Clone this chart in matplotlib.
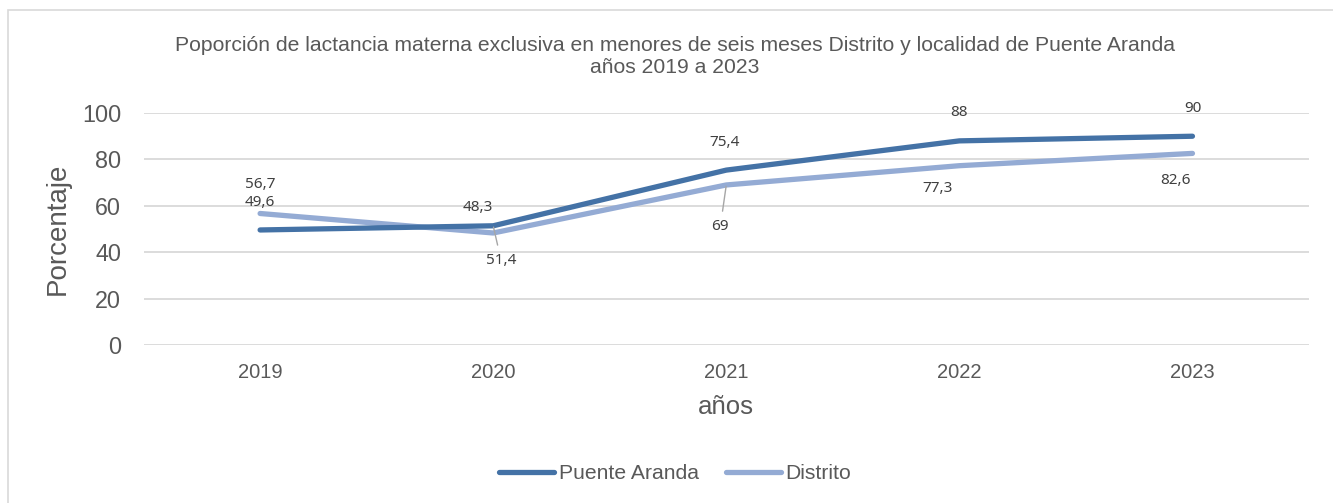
import matplotlib.pyplot as plt
from matplotlib.patches import Rectangle

# data
years = ["2019", "2020", "2021", "2022", "2023"]
puente_aranda = [49.6, 51.4, 75.4, 88, 90]
distrito = [56.7, 48.3, 69, 77.3, 82.6]
puente_labels = ["49,6", "51,4", "75,4", "88", "90"]
distrito_labels = ["56,7", "48,3", "69", "77,3", "82,6"]

# label offsets (pixels) and leader-line flags
puente_off = [(0, 27), (8, -35), (-2, 28), (0, 28), (0, 28)]
puente_lead = [False, True, False, False, False]
distrito_off = [(0, 29), (-15, 25), (-6, -42), (-22, -23), (-17, -27)]
distrito_lead = [False, False, True, False, False]

dark = "#4472a6"
light = "#94abd4"
txt = "#595959"

plt.rcParams['font.family'] = ['Liberation Sans', 'DejaVu Sans']

fig = plt.figure(figsize=(13.33, 5.03), dpi=100)
fig.patches.append(Rectangle((8 / 1333, -0.1), 1.2, 1.1 - 10 / 503,
                             transform=fig.transFigure, fill=False,
                             edgecolor="#d9d9d9", linewidth=1.2))

ax = fig.add_axes([0.1077, 0.314, 0.8743, 0.4613])
x = range(len(years))
ax.plot(x, puente_aranda, color=dark, lw=3.8, solid_capstyle='round',
        label="Puente Aranda", clip_on=False, zorder=3)
ax.plot(x, distrito, color=light, lw=3.8, solid_capstyle='round',
        label="Distrito", clip_on=False, zorder=2)

def put_labels(vals, labs, offs, leads):
    for i, (v, s, o, ld) in enumerate(zip(vals, labs, offs, leads)):
        kw = {}
        if ld:
            kw['arrowprops'] = dict(arrowstyle='-', color='#a6a6a6', lw=1,
                                    shrinkA=4, shrinkB=1)
        ax.annotate(s, (i, v), xytext=o, textcoords='offset pixels',
                    ha='center', va='center', fontsize=11, color='#404040',
                    family=['Noto Sans', 'DejaVu Sans'], **kw)

put_labels(puente_aranda, puente_labels, puente_off, puente_lead)
put_labels(distrito, distrito_labels, distrito_off, distrito_lead)

ax.set_xlim(-0.5, len(years) - 0.5)
ax.set_ylim(0, 100)
ax.set_yticks(range(0, 101, 20))
ax.set_xticks(list(x))
ax.set_xticklabels(years)
ax.grid(axis='y', color='#d9d9d9', lw=1.3)
ax.set_axisbelow(True)
for s in ax.spines.values():
    s.set_visible(False)
ax.tick_params(axis='both', length=0, colors=txt)
ax.tick_params(axis='y', labelsize=16.8, pad=16)
ax.tick_params(axis='x', labelsize=14.5, pad=13)

ax.set_ylabel("Porcentaje", fontsize=20, color=txt, labelpad=8)
ax.set_xlabel("años", fontsize=18.5, color=txt, labelpad=9)

fig.text(0.5065, 0.8877, "Poporción de lactancia materna exclusiva en menores de seis meses Distrito y localidad de Puente Aranda\naños 2019 a 2023",
         ha='center', va='center', fontsize=15.2, color=txt, linespacing=1.2)

fig.legend(loc='center', bbox_to_anchor=(0.5065, 0.058), ncol=2, frameon=False,
           fontsize=15.2, handlelength=2.6, handletextpad=0.2, columnspacing=1.3,
           labelcolor=txt)

fig.savefig("out.png", dpi=100)
